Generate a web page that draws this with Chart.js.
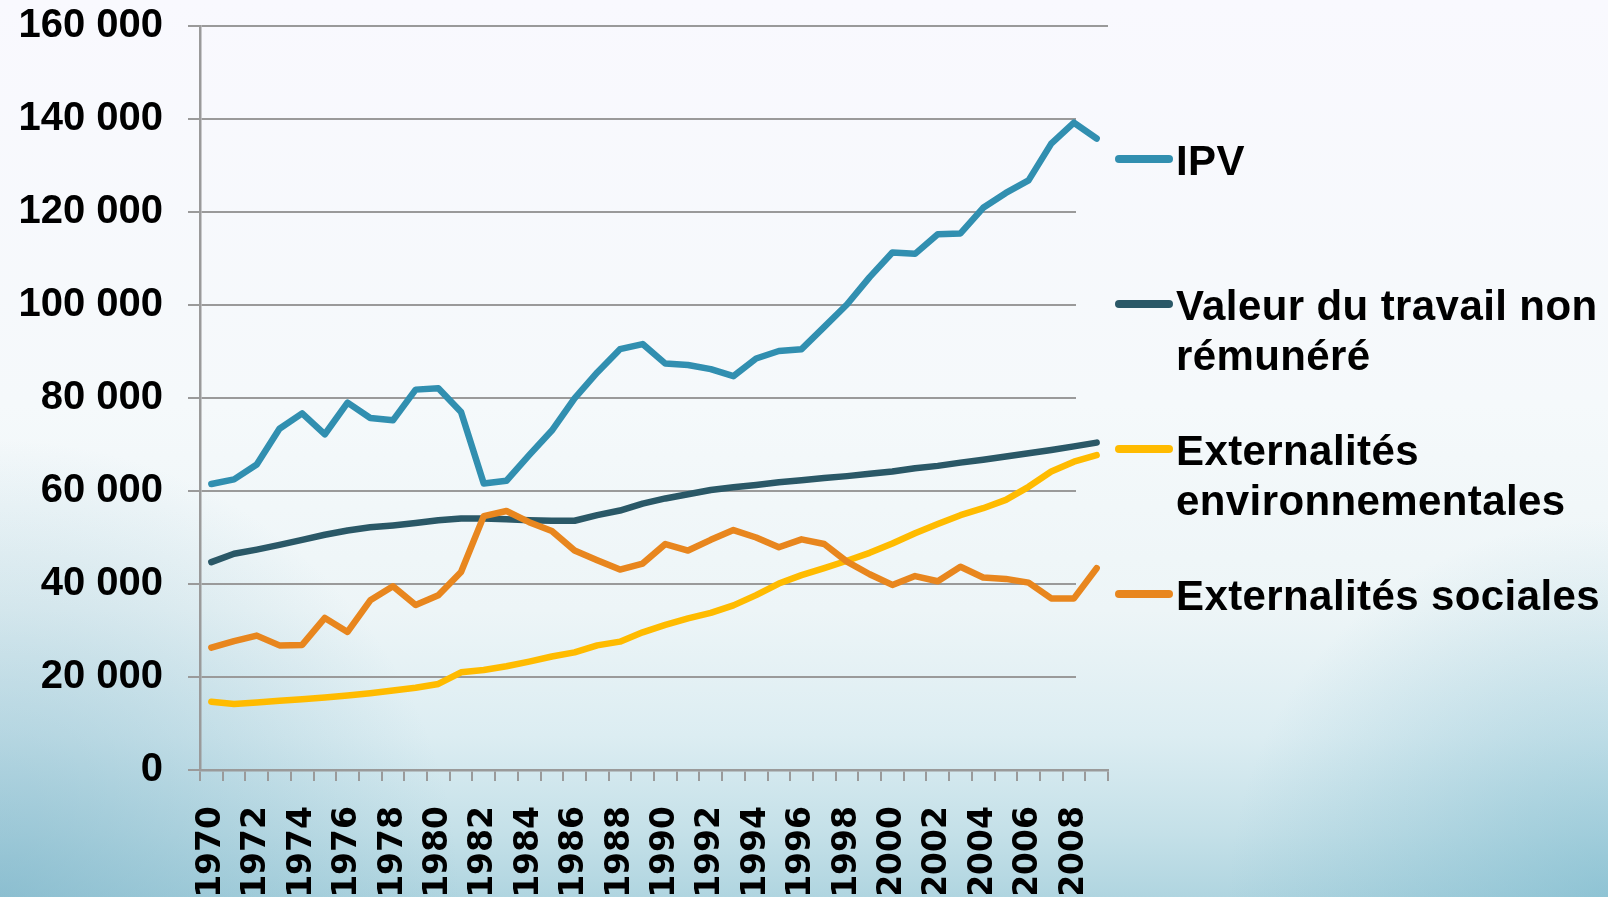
<!DOCTYPE html>
<html>
<head>
<meta charset="utf-8">
<script src="https://cdn.jsdelivr.net/npm/chart.js@4.4.1/dist/chart.umd.min.js"></script>
<style>
  html, body { margin: 0; padding: 0; overflow: hidden; }
  #wrap { width: 1608px; height: 897px; position: relative; }
</style>
</head>
<body>
<div id="wrap"><canvas id="canvas1"></canvas></div>
<script>
// years on the x axis
var years = []
for (var y = 1970; y <= 2009; y++) years.push(String(y))

// series values
var ipv = [61500, 62500, 65700, 73400, 76700, 72200, 79000, 75700, 75200, 81800,
           82100, 77000, 61600, 62200, 67700, 73000, 79900, 85500, 90500, 91600,
           87400, 87100, 86200, 84700, 88500, 90100, 90500, 95300, 100100, 106000,
           111300, 111000, 115200, 115400, 120900, 124100, 126800, 134700, 139200, 135800]
var valeurTravail = [44700, 46500, 47400, 48400, 49500, 50600, 51500, 52200, 52600, 53100,
           53700, 54100, 54100, 53900, 53700, 53600, 53600, 54800, 55800, 57300,
           58400, 59300, 60200, 60800, 61300, 61900, 62300, 62800, 63200, 63700,
           64200, 64900, 65400, 66100, 66700, 67400, 68100, 68800, 69600, 70400]
var extEnv = [14700, 14200, 14500, 14900, 15200, 15600, 16000, 16500, 17100, 17700,
           18500, 21000, 21500, 22300, 23300, 24400, 25300, 26800, 27600, 29600,
           31200, 32600, 33800, 35400, 37600, 40100, 41900, 43400, 45000, 46700,
           48700, 50900, 52900, 54800, 56300, 58100, 60900, 64200, 66300, 67700]
var extSoc = [26300, 27700, 28900, 26800, 26900, 32700, 29700, 36500, 39500, 35500,
           37600, 42600, 54600, 55700, 53300, 51400, 47200, 45100, 43100, 44400,
           48600, 47200, 49500, 51600, 50000, 47900, 49600, 48600, 44800, 42100,
           39800, 41700, 40600, 43700, 41400, 41100, 40300, 36900, 36900, 43400]

// legend text, one entry per series, split in lines like the picture
var seriesNames = [
    ["IPV"],
    ["Valeur du travail non", "rémunéré"],
    ["Externalités", "environnementales"],
    ["Externalités sociales"]
]
var seriesColors = ['#318fb0', '#2a5867', '#ffbb00', '#e8861e']
var yTicks = [0, 20000, 40000, 60000, 80000, 100000, 120000, 140000, 160000]

function fmt(v) {
    return String(v).replace(/\B(?=(\d{3})+(?!\d))/g, ' ')
}

// paints the slide background into a rectangle (same look wherever it is used)
function paintBg(ctx, x, y, w, h) {
    ctx.save()
    ctx.beginPath()
    ctx.rect(x, y, w, h)
    ctx.clip()
    var lin = ctx.createLinearGradient(0, 0, 0, 897)
    lin.addColorStop(0, '#f9f9fe')
    lin.addColorStop(0.45, '#f5f9fb')
    lin.addColorStop(0.68, '#edf5f7')
    lin.addColorStop(0.82, '#dcedf2')
    lin.addColorStop(0.93, '#c4e0e8')
    lin.addColorStop(1, '#b0d5e0')
    ctx.fillStyle = lin
    ctx.fillRect(0, 0, 1608, 897)
    var g1 = ctx.createRadialGradient(0, 900, 0, 0, 900, 460)
    g1.addColorStop(0, 'rgba(110,172,195,0.55)')
    g1.addColorStop(1, 'rgba(110,172,195,0)')
    ctx.fillStyle = g1
    ctx.fillRect(0, 0, 1608, 897)
    var g2 = ctx.createRadialGradient(1608, 900, 0, 1608, 900, 380)
    g2.addColorStop(0, 'rgba(110,178,200,0.5)')
    g2.addColorStop(1, 'rgba(110,178,200,0)')
    ctx.fillStyle = g2
    ctx.fillRect(0, 0, 1608, 897)
    ctx.restore()
}

// background, plus a patch under the legend that hides the grid there
var bgPlugin = {
    id: 'bg',
    beforeDraw: function(chart) {
        paintBg(chart.ctx, 0, 0, chart.width, chart.height)
    },
    beforeDatasetsDraw: function(chart) {
        var area = chart.chartArea
        paintBg(chart.ctx, area.right - 32, 90, chart.width, 620)
    }
}

// custom legend to the right, multi-line labels
var legendPlugin = {
    id: 'sideLegend',
    afterDraw: function(chart) {
        var ctx = chart.ctx
        var rows = [159, 304, 449, 594]
        ctx.save()
        chart.data.datasets.forEach(function(ds, i) {
            var yy = rows[i]
            ctx.strokeStyle = ds.borderColor
            ctx.lineWidth = 8
            ctx.lineCap = 'round'
            ctx.beginPath()
            ctx.moveTo(1119, yy)
            ctx.lineTo(1169, yy)
            ctx.stroke()
            ctx.fillStyle = '#000'
            ctx.font = 'bold 42px "Liberation Sans", Arial, sans-serif'
            ctx.letterSpacing = '0.4px'
            ctx.textBaseline = 'alphabetic'
            ctx.textAlign = 'left'
            seriesNames[i].forEach(function(line, k) {
                ctx.fillText(line, 1176, yy + 16 + k * 50)
            })
        })
        ctx.restore()
    }
}

var datasets = [ipv, valeurTravail, extEnv, extSoc].map(function(vals, i) {
    return {
        label: seriesNames[i].join(' '),
        data: vals,
        borderColor: seriesColors[i],
        backgroundColor: seriesColors[i],
        borderWidth: 6.5,
        pointRadius: 0,
        tension: 0,
        borderCapStyle: 'round',
        borderJoinStyle: 'round',
        fill: false,
        order: 4 - i
    }
})

const chart1 = document.getElementById('canvas1').getContext('2d');
const myChart1 = new Chart(chart1, {
    type: 'line',
    data: {
        labels: years,
        datasets: datasets
    },
    plugins: [bgPlugin, legendPlugin],
    options: {
        responsive: true,
        maintainAspectRatio: false,
        animation: false,
        layout: {
            autoPadding: false,
            padding: { left: 17, right: 500, top: 26, bottom: 3 }
        },
        plugins: {
            legend: { display: false },
            tooltip: { enabled: false }
        },
        scales: {
            x: {
                offset: true,
                afterFit: function(scale) {
                    scale.height = 124
                    scale.paddingLeft = 0
                    scale.paddingRight = 0
                },
                grid: {
                    display: true,
                    offset: true,
                    drawOnChartArea: false,
                    drawTicks: true,
                    tickLength: 11,
                    color: '#9a9a9a',
                    lineWidth: 2
                },
                border: { color: '#9a9a9a', width: 2.5 },
                ticks: {
                    autoSkip: false,
                    minRotation: 90,
                    maxRotation: 90,
                    padding: 25,
                    color: '#000',
                    font: { family: '"DejaVu Sans", sans-serif', weight: 'bold', size: 33 },
                    callback: function(val, idx) {
                        return idx % 2 == 0 ? years[idx] : ''
                    }
                }
            },
            y: {
                min: yTicks[0],
                max: yTicks[yTicks.length - 1],
                afterFit: function(scale) {
                    scale.width = 183
                    scale.paddingTop = 0
                    scale.paddingBottom = 0
                },
                grid: {
                    color: '#9a9a9a',
                    lineWidth: 2,
                    drawTicks: true,
                    tickLength: 12
                },
                border: { color: '#9a9a9a', width: 2.5 },
                ticks: {
                    stepSize: 20000,
                    padding: 25,
                    color: '#000',
                    font: { family: '"Liberation Sans", Arial, sans-serif', weight: 'bold', size: 40 },
                    callback: function(v) { return fmt(v) }
                }
            }
        }
    }
});
</script>
</body>
</html>
